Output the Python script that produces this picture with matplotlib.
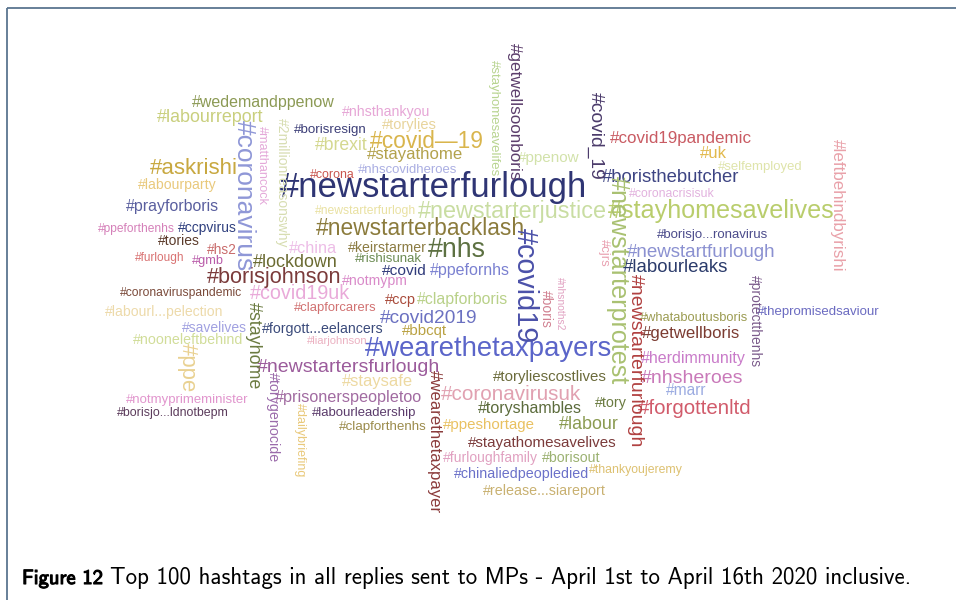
import matplotlib
matplotlib.use("Agg")
import matplotlib.pyplot as plt
import matplotlib.patheffects as pe

# horizontal hashtags: tag, left x, right x, baseline y (pixels), colour
h_tags = [
    "#wedemandppenow", "#labourreport", "#nhsthankyou", "#torylies", "#borisresign",
    "#brexit", "#covid\u201419", "#stayathome", "#askrishi", "#corona",
    "#nhscovidheroes", "#labourparty", "#newstarterfurlough", "#ppenow", "#covid19pandemic",
    "#uk", "#selfemployed", "#boristhebutcher", "#coronacrisisuk", "#prayforboris",
    "#newstarterfurlogh", "#newstarterjustice", "#stayhomesavelives", "#ppeforthenhs", "#ccpvirus",
    "#newstarterbacklash", "#tories", "#hs2", "#china", "#keirstarmer",
    "#nhs", "#furlough", "#gmb", "#lockdown", "#rishisunak",
    "#borisjohnson", "#notmypm", "#covid", "#ppefornhs", "#coronaviruspandemic",
    "#covid19uk", "#ccp", "#clapforboris", "#labourl...pelection", "#clapforcarers",
    "#covid2019", "#savelives", "#forgott...eelancers", "#bbcqt", "#nooneleftbehind",
    "#liarjohnson", "#wearethetaxpayers", "#newstartersfurlough", "#staysafe", "#notmyprimeminister",
    "#prisonerspeopletoo", "#borisjo...ldnotbepm", "#labourleadership", "#clapforthenhs", "#herdimmunity",
    "#toryliescostlives", "#nhsheroes", "#coronavirusuk", "#marr", "#tory",
    "#forgottenltd", "#toryshambles", "#ppeshortage", "#labour", "#stayathomesavelives",
    "#furloughfamily", "#borisout", "#chinaliedpeopledied", "#thankyoujeremy", "#release...siareport",
    "#borisjo...ronavirus", "#newstartfurlough", "#labourleaks", "#whataboutusboris", "#thepromisedsaviour",
    "#getwellboris",
]
h_boxes = [
    (192, 336, 107), (157, 264, 122), (342, 430, 116), (382, 437, 129), (294, 367, 133),
    (315, 368, 150), (370, 484, 148), (367, 463, 159), (150, 238, 174), (310, 355, 178),
    (358, 458, 173), (138, 216, 189), (280, 589, 197), (518, 580, 162), (610, 752, 143),
    (700, 727, 158), (718, 803, 170), (602, 740, 182), (629, 715, 197), (126, 219, 211),
    (315, 416, 214), (418, 607, 218), (608, 835, 218), (98, 175, 232), (178, 237, 232),
    (316, 525, 235), (158, 200, 245), (207, 237, 254), (289, 337, 253), (348, 427, 252),
    (428, 486, 257), (135, 185, 261), (192, 224, 264), (253, 338, 267), (355, 422, 262),
    (207, 342, 283), (342, 408, 285), (382, 427, 275), (430, 510, 275), (120, 243, 296),
    (250, 350, 299), (385, 416, 304), (417, 508, 304), (105, 223, 316), (294, 377, 311),
    (380, 478, 323), (182, 247, 332), (262, 383, 333), (402, 447, 335), (133, 243, 344),
    (307, 368, 344), (365, 614, 356), (257, 440, 372), (342, 413, 386), (126, 249, 403),
    (275, 422, 402), (117, 228, 416), (312, 417, 416), (339, 427, 430), (641, 747, 363),
    (493, 607, 381), (641, 743, 383), (441, 582, 400), (666, 707, 395), (595, 627, 407),
    (638, 753, 414), (478, 582, 413), (443, 535, 429), (559, 619, 429), (468, 617, 447),
    (443, 538, 462), (542, 600, 462), (454, 588, 478), (589, 683, 473), (483, 605, 495),
    (657, 769, 238), (627, 777, 257), (623, 729, 272), (640, 748, 321), (757, 880, 315),
    (642, 740, 338),
]
h_colours = [
    "#8c9a55", "#c9cf7d", "#e6a6d6", "#e8d49c", "#3d3f78",
    "#d4d890", "#d9b54c", "#b3a24c", "#c8a840", "#c9564f",
    "#aaaee2", "#e9c97c", "#2f3574", "#d2e2aa", "#c95b63",
    "#e2b94c", "#dfe4aa", "#3d4483", "#e2b2de", "#5a5f9f",
    "#e9e1a2", "#c9dda2", "#b9cd6c", "#d580b9", "#30407f",
    "#8b7b3c", "#5b3b2b", "#c96b6b", "#edbde7", "#8b7b42",
    "#5d7142", "#d97272", "#b95ba9", "#6b6b32", "#6b8b52",
    "#7b3b3b", "#d98ac9", "#303b7b", "#7b81d1", "#7b4b3b",
    "#e9aad9", "#a94b3b", "#b9d189", "#eddaaa", "#d17171",
    "#6b71c1", "#a1a1e1", "#3b4b7b", "#b9a141", "#d1dd99",
    "#ebb1c1", "#5b65c9", "#9b5b9b", "#edd9a1", "#e195cd",
    "#a16ba1", "#5b3b5b", "#5b3b6b", "#9b8b4b", "#c97bc9",
    "#6b6b3b", "#c979b9", "#e1a1b1", "#9babe1", "#6b7b41",
    "#d15b6b", "#5b6b3b", "#e9c161", "#8b9b51", "#7b3b3b",
    "#e1a1c1", "#9bb171", "#6b71c9", "#ddc171", "#c9b171",
    "#4b4b8b", "#8b91d1", "#2b3b6b", "#9b9b51", "#6b6bc1",
    "#7b3b31",
]

# vertical hashtags (read top to bottom): tag, left x, top y, bottom y, colour
v_tags = [
    "#coronavirus", "#matthancock", "#2millionreasonswhy", "#getwellsoonboris",
    "#stayhomesavelifes", "#covid_19", "#leftbehindbyrishi", "#newstarterprotest",
    "#covid19", "#cjrs", "#nhsnoths2", "#boris", "#protectthenhs",
    "#newstarterfurlough", "#stayhome", "#ppe", "#torygenocide", "#dailybriefing",
    "#wearethetaxpayer",
]
v_boxes = [
    (237, 120, 272), (259, 126, 205), (275, 118, 248), (507, 43, 180),
    (488, 60, 177), (587, 92, 180), (830, 139, 272), (606, 176, 385),
    (517, 228, 343), (598, 239, 267), (557, 277, 330), (542, 290, 328), (748, 275, 367),
    (627, 274, 447), (245, 302, 390), (177, 343, 392), (266, 372, 462), (294, 403, 477),
    (427, 370, 513),
]
v_colours = [
    "#8f97d7", "#e4a8d9", "#d7ddb1", "#5c3e6c",
    "#b8d490", "#4b3b6b", "#e9a1a9", "#a9c171",
    "#4b51a9", "#e9a1b1", "#e1a1c1", "#d18191", "#7b5b8b",
    "#b14141", "#6b7b41", "#e9d191", "#9b6bab", "#e9c97b",
    "#8b3b3b",
]

caption_bold = "Figure 12"
caption_text = "Top 100 hashtags in all replies sent to MPs - April 1st to April 16th 2020 inclusive."

fig = plt.figure(figsize=(9.56, 6), dpi=100)
ax = fig.add_axes([0, 0, 1, 1])
ax.set_xlim(0, 956)
ax.set_ylim(600, 0)
ax.axis("off")
renderer = fig.canvas.get_renderer()
FONT = "Liberation Sans"


def fit(t, target, vertical=False):
    bb = t.get_window_extent(renderer)
    size = bb.height if vertical else bb.width
    t.set_fontsize(t.get_fontsize() * target / size)


for tag, (x0, x1, yb), col in zip(h_tags, h_boxes, h_colours):
    t = ax.text(x0, yb, tag, fontsize=10, family=FONT, color=col,
                ha="left", va="baseline")
    fit(t, x1 - x0)

for tag, (x, y0, y1), col in zip(v_tags, v_boxes, v_colours):
    va = "bottom" if set(tag) & set("gjpqy_") else "baseline"
    t = ax.text(x, y0, tag, fontsize=10, family=FONT, color=col,
                rotation=270, rotation_mode="anchor", ha="left", va=va)
    fit(t, y1 - y0, vertical=True)

# caption
t1 = ax.text(22, 584, caption_bold, fontsize=10, family="cmss10", color="black",
             ha="left", va="baseline",
             path_effects=[pe.withStroke(linewidth=0.8, foreground="black")])
fit(t1, 81)
t2 = ax.text(110, 584, caption_text, fontsize=10, family="cmss10", color="black",
             ha="left", va="baseline")
fit(t2, 803)

# frame
ax.plot([7.5, 956], [7.5, 7.5], color="#5b7590", lw=1.3, solid_capstyle="butt")
ax.plot([7.5, 7.5], [7.5, 600], color="#5b7590", lw=1.3, solid_capstyle="butt")

fig.savefig("out.png", dpi=100)
